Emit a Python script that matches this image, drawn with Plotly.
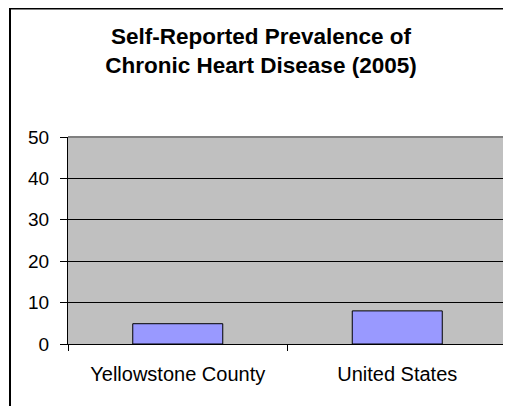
import plotly.graph_objects as go

categories = ["Yellowstone County", "United States"]
values = [4.9, 8.0]
y_ticks = [0, 10, 20, 30, 40, 50]
title_lines = ["Self-Reported Prevalence of", "Chronic Heart Disease (2005)"]

# page body has an 8px default margin; compensate
OFF = 8
W, H = 511 - OFF, 406 - OFF
L, R, T, B = 68 - OFF, 507 - OFF, 137 - OFF, 344 - OFF
pw, ph = R - L, B - T

FONT = "Liberation Sans, Arial, sans-serif"

fig = go.Figure()
fig.add_trace(go.Bar(
    x=categories, y=values,
    marker=dict(color="#9999FF", line=dict(color="#000000", width=1)),
    width=0.41,
    hoverinfo="skip",
))

fig.update_layout(
    width=W, height=H,
    margin=dict(l=L, r=W - R, t=T, b=H - B, pad=0, autoexpand=False),
    paper_bgcolor="white",
    plot_bgcolor="#C0C0C0",
    showlegend=False,
    font=dict(family=FONT, color="black", size=20),
    title=dict(
        text="<br>".join(title_lines),
        x=(261 - OFF) / W, xref="container", xanchor="center",
        y=1 - (44 - OFF) / H, yref="container", yanchor="middle",
        font=dict(family=FONT, size=22.5, color="black", weight="bold"),
    ),
    bargap=0.59,
)

fig.update_xaxes(
    showline=True, linecolor="black", linewidth=1,
    ticks="outside", ticklen=6, tickcolor="black", tickwidth=1,
    tickson="boundaries", showgrid=False,
    tickfont=dict(family=FONT, size=20, color="black"),
    ticklabelstandoff=12,
)
fig.update_yaxes(
    range=[0, 50], tickvals=y_ticks,
    showline=True, linecolor="black", linewidth=1,
    ticks="outside", ticklen=7, tickcolor="black", tickwidth=1,
    showgrid=True, gridcolor="black", gridwidth=1,
    zeroline=False,
    tickfont=dict(family=FONT, size=19, color="black"),
    ticklabelstandoff=7,
)

# plot-area border (gray) on top and right
fig.add_shape(type="line", xref="paper", yref="paper", x0=0, x1=1, y0=1, y1=1,
              line=dict(color="#808080", width=2), layer="above")
fig.add_shape(type="line", xref="paper", yref="paper", x0=1, x1=1, y0=0, y1=1,
              line=dict(color="#808080", width=2), layer="above")

# outer chart frame
fx0 = (10 - 68) / pw
fy1 = 1 + (T - 0.5) / ph
fig.add_shape(type="rect", xref="paper", yref="paper",
              x0=fx0, x1=1.2, y0=-1.0, y1=fy1,
              line=dict(color="black", width=2), fillcolor="rgba(0,0,0,0)", layer="above")

fig.write_html("out.html")
